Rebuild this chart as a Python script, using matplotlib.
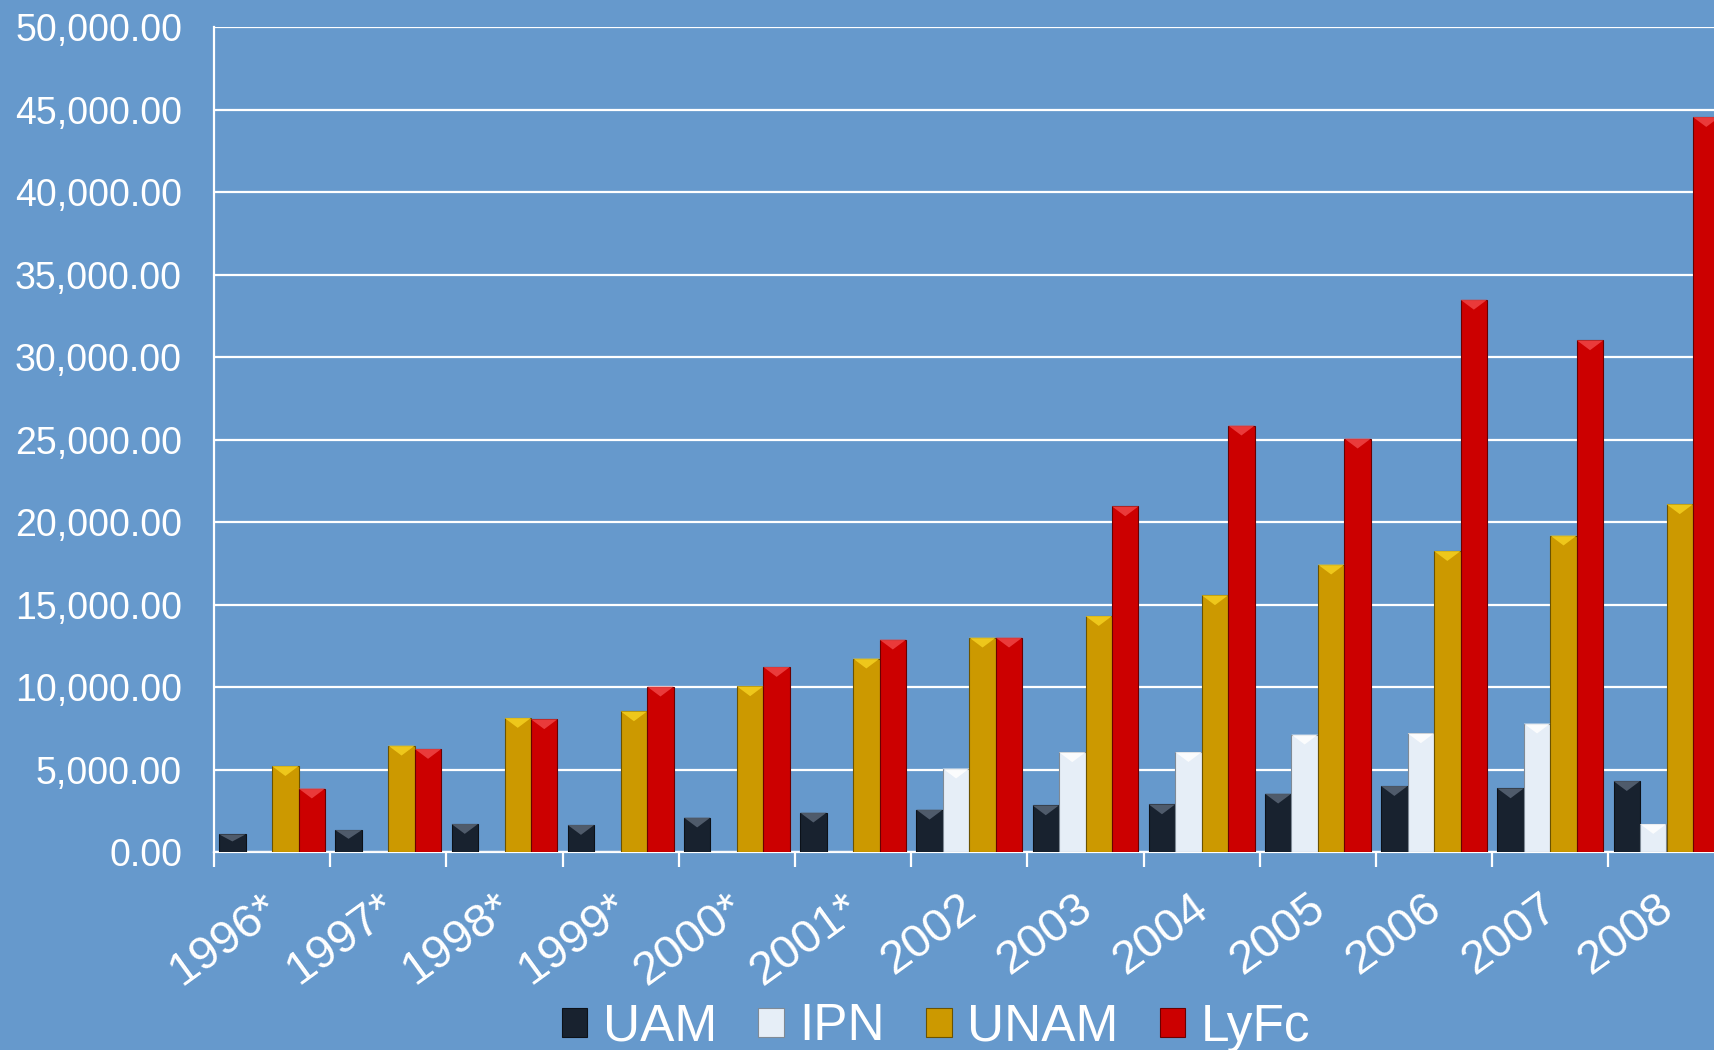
import numpy as np
import matplotlib.pyplot as plt
from matplotlib.patches import Polygon
from matplotlib.ticker import FuncFormatter

plt.rcParams['font.family'] = ['Liberation Sans', 'DejaVu Sans']

years = ['1996*', '1997*', '1998*', '1999*', '2000*', '2001*', '2002',
         '2003', '2004', '2005', '2006', '2007', '2008']
uam = [1070, 1330, 1700, 1640, 2090, 2390, 2570, 2830, 2890, 3540, 4000, 3860, 4300]
ipn = [0, 0, 0, 0, 0, 0, 5060, 6050, 6060, 7120, 7200, 7790, 1700]
unam = [5210, 6450, 8130, 8530, 10050, 11730, 13000, 14310, 15570, 17430, 18250, 19190, 21090]
lyfc = [3850, 6250, 8050, 10030, 11220, 12880, 13000, 20960, 25860, 25070, 33490, 31030, 44570]

series = [('UAM', uam), ('IPN', ipn), ('UNAM', unam), ('LyFc', lyfc)]
colors = ['#18222f', '#e6eef7', '#cc9900', '#cc0000']
tops = ['#5a6676', '#ffffff', '#f5d020', '#f04545']
edges = ['#0c1118', '#7f8a96', '#6b5200', '#6a0000']
bg = '#6699cc'

fig = plt.figure(figsize=(17.14, 10.5), dpi=100, facecolor=bg)
ax = fig.add_axes([214 / 1714, 198 / 1050, 1510.6 / 1714, 824.5 / 1050])
ax.set_facecolor(bg)

x = np.arange(len(years)) + 0.5
w = 0.228
bevel = 600  # height of the top highlight in data units (~10 px)

for i, (name, vals) in enumerate(series):
    pos = x + (i - 1.5) * w
    ax.bar(pos, vals, width=w, color=colors[i], edgecolor=edges[i],
           linewidth=0.8, label=name, zorder=3)
    for xc, v in zip(pos, vals):
        if v <= 0:
            continue
        h = min(bevel, v * 0.4)
        tri = Polygon([(xc - w / 2, v), (xc + w / 2, v), (xc, v - h)],
                      closed=True, facecolor=tops[i], edgecolor='none',
                      alpha=0.85, zorder=4)
        ax.add_patch(tri)

ax.set_xlim(0, len(years))
ax.set_ylim(0, 50000)
ax.set_yticks(np.arange(0, 50001, 5000))
ax.yaxis.set_major_formatter(FuncFormatter(lambda v, p: f'{v:,.2f}'))
ax.grid(axis='y', color='white', linewidth=1.6, zorder=1)
ax.set_axisbelow(True)

ax.set_xticks(np.arange(len(years) + 1))
ax.set_xticklabels([])
# labels sit a little left of the group centre
ax.set_xticks(x - 0.09, minor=True)
ax.set_xticklabels(years, minor=True, rotation=36, ha='right', va='top',
                   rotation_mode='anchor', fontsize=34, color='white')
ax.tick_params(axis='x', which='major', length=11, width=1.6, color='white')
ax.tick_params(axis='x', which='minor', length=0, pad=24)
ax.tick_params(axis='y', length=0, pad=23, labelsize=27, labelcolor='white')

for s in ['top', 'right']:
    ax.spines[s].set_visible(False)
for s in ['left', 'bottom']:
    ax.spines[s].set_color('white')
    ax.spines[s].set_linewidth(1.6)

fig.legend(loc='center', bbox_to_anchor=(936 / 1714, 23 / 1050), ncol=4,
           frameon=False, fontsize=37, labelcolor='white',
           handlelength=0.5, handleheight=0.5, handletextpad=0.3,
           columnspacing=0.8, borderpad=0)

fig.savefig('out.png', dpi=100, facecolor=bg)
